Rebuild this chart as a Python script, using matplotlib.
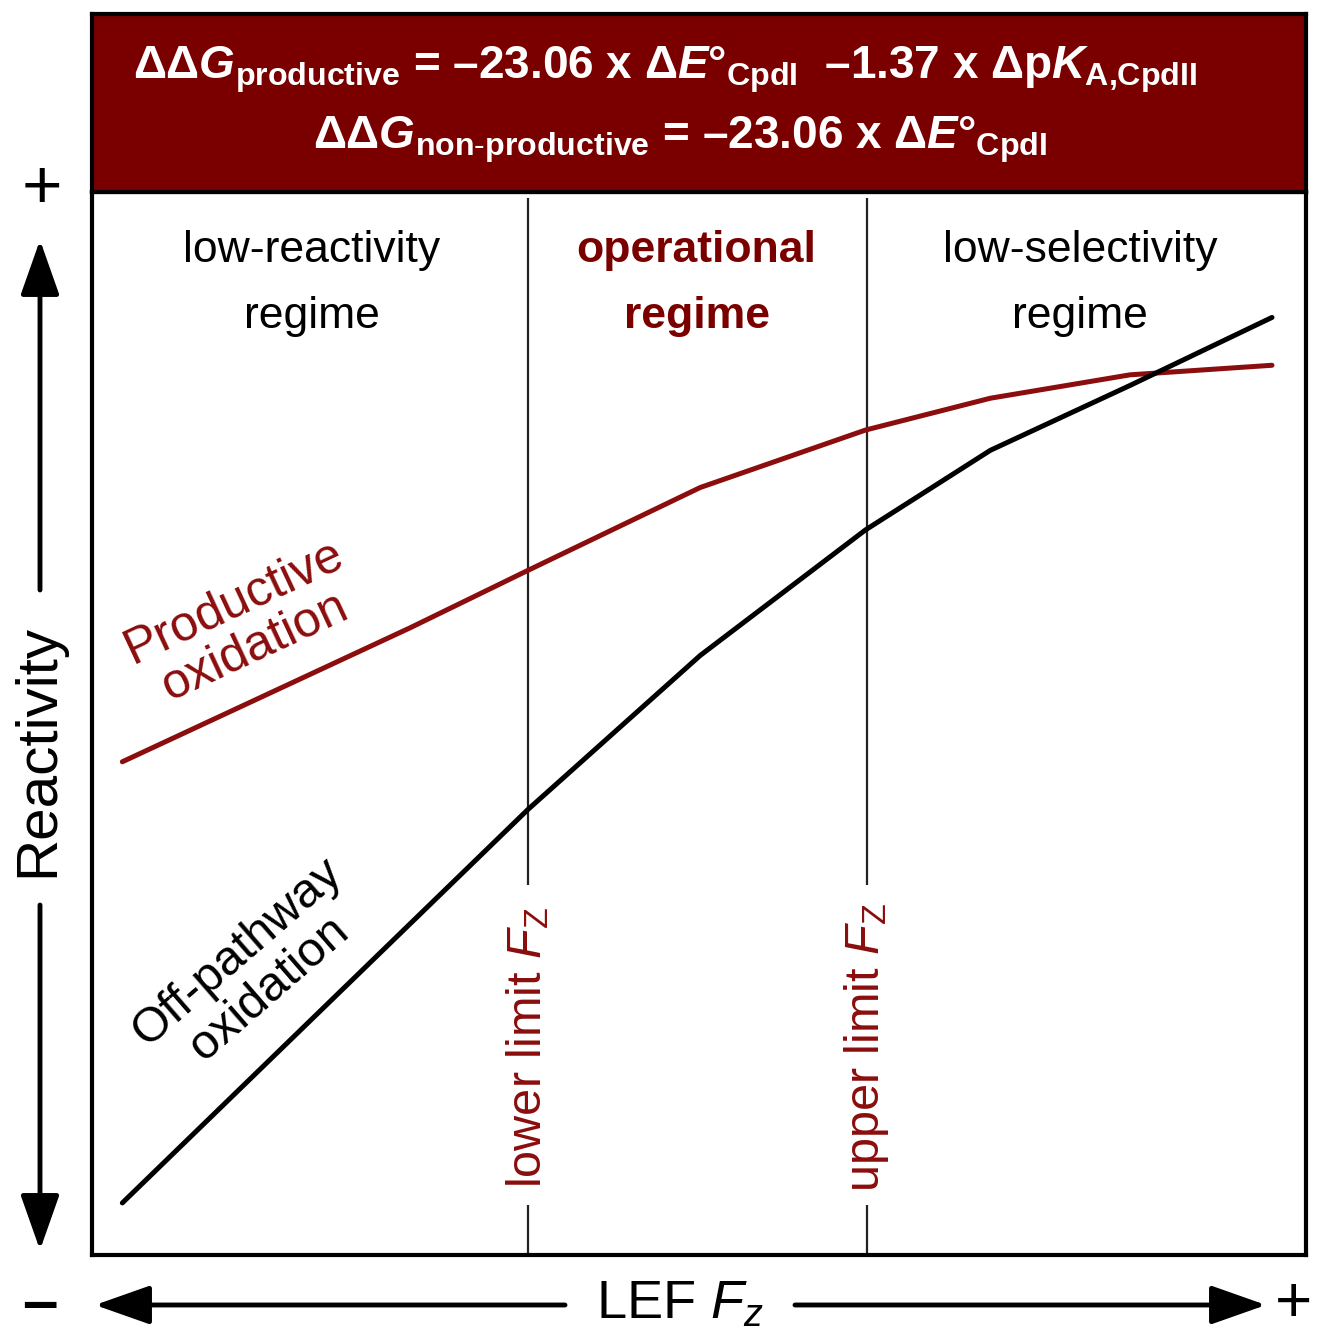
import matplotlib
matplotlib.use("Agg")
import matplotlib.pyplot as plt
from matplotlib.patches import FancyArrowPatch

plt.rcParams['font.family'] = ['Liberation Sans', 'DejaVu Sans']
plt.rcParams['mathtext.fontset'] = 'custom'
plt.rcParams['mathtext.rm'] = 'Liberation Sans'
plt.rcParams['mathtext.it'] = 'Liberation Sans:italic'
plt.rcParams['mathtext.bf'] = 'Liberation Sans:bold'
plt.rcParams['mathtext.bfit'] = 'Liberation Sans:bold:italic'

# ---- data (plot area scaled 0..100) ----
prod_x = [2.5, 26.2, 35.9, 50.1, 63.7, 74.0, 85.5, 97.2]
prod_y = [46.4, 59.0, 64.4, 72.2, 77.6, 80.6, 82.8, 83.7]
off_x = [2.5, 35.9, 50.1, 63.7, 74.0, 85.5, 97.2]
off_y = [4.9, 41.9, 56.4, 68.2, 75.7, 81.8, 88.2]
limit_x = [35.9, 63.8]
limit_labels = [r'lower limit $F_{\mathrm{Z}}$', r'upper limit $F_{\mathrm{Z}}$']
regime_x = [18.1, 49.8, 81.4]
regime_lines = [('low-reactivity', 'regime'), ('operational', 'regime'), ('low-selectivity', 'regime')]
regime_bold = [False, True, False]
curve_labels = ['Productive\noxidation', 'Off-pathway\noxidation']
header_lines = [
    r'$\mathbf{\Delta\Delta}\mathbfit{G}_{\mathbf{productive}}$ = –23.06 x '
    r'$\mathbf{\Delta}\mathbfit{E}$°$_{\mathbf{CpdI}}$  –1.37 x '
    r'$\mathbf{\Delta p}\mathbfit{K}_{\mathbf{A{,}CpdII}}$',
    r'$\mathbf{\Delta\Delta}\mathbfit{G}_{\mathbf{non\text{-}productive}}$ = –23.06 x '
    r'$\mathbf{\Delta}\mathbfit{E}$°$_{\mathbf{CpdI}}$',
]

RED = '#8b0d0d'
DARK = '#7a0000'
W, H = 1318, 1334

fig = plt.figure(figsize=(W / 100, H / 100), dpi=100)

# main plot area
ax = fig.add_axes([92 / W, 79 / H, 1214 / W, 1063 / H])
ax.set_xlim(0, 100)
ax.set_ylim(0, 100)
ax.set_xticks([])
ax.set_yticks([])
for s in ax.spines.values():
    s.set_linewidth(3.0)
    s.set_color('black')

ax.plot(prod_x, prod_y, color=RED, lw=3.6, solid_capstyle='round', zorder=3)
ax.plot(off_x, off_y, color='black', lw=3.6, solid_capstyle='round', zorder=3)

for xv, lab in zip(limit_x, limit_labels):
    ax.vlines(xv, 34.8, 99.4, color='#222222', lw=1.6)
    ax.vlines(xv, 0, 4.7, color='#222222', lw=1.6)
    ax.text(xv, 19.5, lab, rotation=90, ha='center', va='center', color=RED,
            fontsize=35)

for xv, lines, bold in zip(regime_x, regime_lines, regime_bold):
    col = DARK if bold else 'black'
    wt = 'bold' if bold else 'normal'
    ax.text(xv, 93.4, lines[0], ha='center', va='baseline', fontsize=32,
            color=col, fontweight=wt)
    ax.text(xv, 87.2, lines[1], ha='center', va='baseline', fontsize=32,
            color=col, fontweight=wt)

ax.text(12.6, 59.3, curve_labels[0], rotation=25, rotation_mode='anchor',
        ha='center', va='center', fontsize=36, color=RED, linespacing=1.1)
ax.text(13.3, 26.8, curve_labels[1], rotation=41, rotation_mode='anchor',
        ha='center', va='center', fontsize=35, color='black', linespacing=1.1)

# header
hax = fig.add_axes([92 / W, 1142 / H, 1214 / W, 178 / H])
hax.set_facecolor(DARK)
hax.set_xticks([])
hax.set_yticks([])
for s in hax.spines.values():
    s.set_linewidth(3.0)
    s.set_color('black')
hax.text(0.472, 0.64, header_lines[0], transform=hax.transAxes, ha='center',
         va='baseline', color='white', fontsize=33, fontweight='bold')
hax.text(0.484, 0.245, header_lines[1], transform=hax.transAxes, ha='center',
         va='baseline', color='white', fontsize=33, fontweight='bold')

# axis arrows overlay
ov = fig.add_axes([0, 0, 1, 1], facecolor='none')
ov.set_xlim(0, 1)
ov.set_ylim(0, 1)
ov.axis('off')


def arrow(x0, y0, x1, y1):
    a = FancyArrowPatch((x0, y0), (x1, y1), arrowstyle='-|>,head_length=1.7,head_width=0.6',
                        mutation_scale=20, lw=3.5, color='black', shrinkA=0, shrinkB=0)
    ov.add_patch(a)


ax_x = 40 / W
arrow(ax_x, (H - 590) / H, ax_x, (H - 240) / H)
arrow(ax_x, (H - 905) / H, ax_x, (H - 1250) / H)
ov.text(0.029, (H - 750) / H, 'Reactivity', rotation=90, ha='center', va='center',
        fontsize=42)

ay = (H - 1305) / H
arrow(565 / W, ay, 95 / W, ay)
arrow(795 / W, ay, 1266 / W, ay)
ov.text(680 / W, ay, r'LEF $F_{z}$', ha='center', va='center', fontsize=39)

ov.text(42 / W, (H - 190) / H, '+', ha='center', va='center', fontsize=50)
ov.text(40 / W, ay, '–', ha='center', va='center', fontsize=46, fontweight='bold')
ov.text(1293 / W, ay, '+', ha='center', va='center', fontsize=46)

fig.savefig('out.png', dpi=100)
